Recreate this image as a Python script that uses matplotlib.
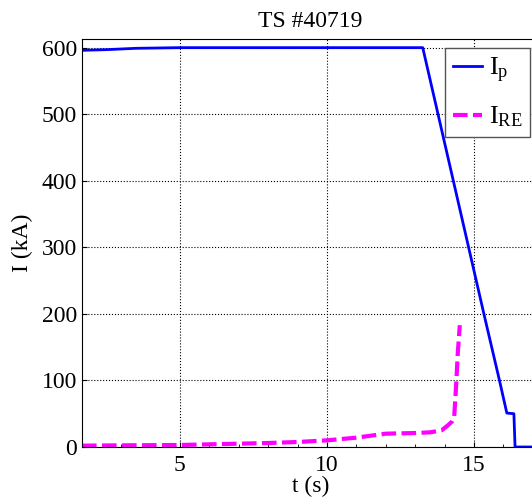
import matplotlib
matplotlib.use('Agg')
import matplotlib.pyplot as plt
import numpy as np

# plasma current I_p (kA) vs time (s)
ip_t = [1.67, 2.5, 3.5, 5.0, 8.0, 10.0, 12.0, 13.0, 13.26, 13.78, 14.30, 14.82, 15.34, 15.87, 16.12, 16.36, 16.4, 17.2]
ip_v = [596, 597, 599, 600, 600, 600, 600, 600, 600, 500, 400, 300, 200, 100, 51, 50, 0, 0]

# runaway electron current I_RE (kA) vs time (s)
ire_t = [1.67, 3.0, 5.0, 6.0, 7.0, 8.0, 9.0, 10.0, 11.0, 12.0, 13.0, 13.5, 13.9, 14.1, 14.25, 14.33, 14.4, 14.45, 14.52]
ire_v = [2, 2.5, 3, 4, 5, 6, 7.5, 10, 14, 20, 21, 22, 25, 32, 38, 45, 96, 140, 183]

plt.rcParams['font.family'] = ['Liberation Serif', 'DejaVu Serif']
plt.rcParams['mathtext.fontset'] = 'custom'
plt.rcParams['mathtext.rm'] = 'Liberation Serif'
plt.rcParams['mathtext.it'] = 'Liberation Serif'

fig = plt.figure(figsize=(5.32, 5.0), dpi=100)
ax = fig.add_axes([82/532, 53/500, 15.53*29.4/532, 408/500])

ax.plot(ip_t, ip_v, color='#0000ff', lw=2.0, label=r'$\mathrm{I_p}$')
ax.plot(ire_t, ire_v, color='#ff00ff', lw=3.0, ls=(0, (3.5, 1.3)), label=r'$\mathrm{I_{RE}}$')

ax.set_xlim(1.67, 17.2)
ax.set_ylim(0, 613)
ax.set_xticks([5, 10, 15])
ax.set_yticks([0, 100, 200, 300, 400, 500, 600])
ax.set_xticks(np.arange(2, 18, 1), minor=True)
ax.tick_params(which='both', direction='in', labelsize=17)
ax.tick_params(axis='x', pad=6)
ax.tick_params(which='minor', length=2)
ax.grid(True, which='major', color='black', ls=':', lw=0.8)

ax.set_xlabel('t (s)', fontsize=17, labelpad=-0.5)
ax.set_ylabel('I (kA)', fontsize=17, labelpad=6)
ax.set_title('TS #40719', fontsize=17, pad=9)

leg = ax.legend(loc='upper right', bbox_to_anchor=(0.982, 0.978), fontsize=19, fancybox=False,
                framealpha=1, edgecolor='#555555', handlelength=1.1, borderpad=0.3,
                handletextpad=0.25, labelspacing=0.75, borderaxespad=0)
leg.get_frame().set_linewidth(1.0)

fig.savefig('out.png', dpi=100)
